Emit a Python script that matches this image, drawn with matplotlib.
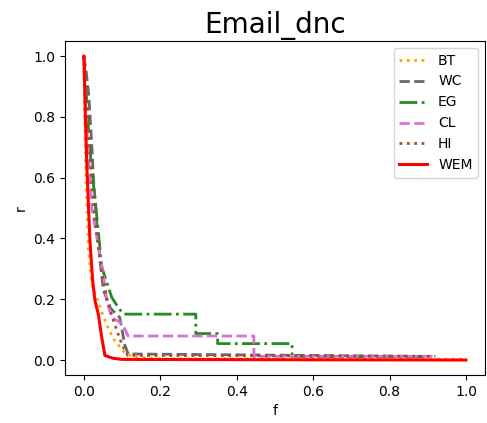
import matplotlib
matplotlib.use("Agg")
from matplotlib import pyplot as plt

# f / r values
bt_f = [0.0, 0.005, 0.012, 0.021, 0.035, 0.047, 0.065, 0.081, 0.107, 0.129, 0.2, 1.0]
bt_r = [1.0, 0.6, 0.36, 0.25, 0.2, 0.157, 0.1, 0.063, 0.024, 0.01, 0.004, 0.003]

wc_f = [0.0, 0.006, 0.013, 0.021, 0.025, 0.034, 0.042, 0.051, 0.07, 0.094, 0.107, 0.116, 0.6, 0.9]
wc_r = [1.0, 0.95, 0.87, 0.7, 0.6, 0.45, 0.33, 0.23, 0.17, 0.14, 0.05, 0.02, 0.015, 0.012]

eg_f = [0.0, 0.006, 0.015, 0.025, 0.038, 0.047, 0.073, 0.09, 0.103, 0.293, 0.293, 0.35, 0.35, 0.545, 0.545, 0.9]
eg_r = [1.0, 0.88, 0.7, 0.58, 0.42, 0.305, 0.206, 0.173, 0.151, 0.151, 0.087, 0.087, 0.054, 0.054, 0.012, 0.01]

cl_f = [0.0, 0.008, 0.021, 0.029, 0.051, 0.06, 0.073, 0.1, 0.116, 0.445, 0.445, 0.921]
cl_r = [1.0, 0.75, 0.5, 0.44, 0.28, 0.195, 0.14, 0.12, 0.079, 0.079, 0.012, 0.012]

hi_f = [0.0, 0.01, 0.02, 0.03, 0.045, 0.06, 0.08, 0.1, 0.115, 0.92]
hi_r = [1.0, 0.8, 0.6, 0.45, 0.3, 0.2, 0.12, 0.05, 0.015, 0.012]

wem_f = [0.0, 0.004, 0.008, 0.016, 0.023, 0.029, 0.038, 0.046, 0.055, 0.075, 0.1, 0.5, 1.0]
wem_r = [1.0, 0.8, 0.63, 0.39, 0.26, 0.195, 0.15, 0.08, 0.015, 0.006, 0.002, 0.001, 0.0]

fig = plt.figure(figsize=(4.87, 4.23), dpi=100)
ax = fig.add_axes([0.133, 0.113, 0.863, 0.79])

ax.plot(bt_f, bt_r, color='orange', linestyle=':', linewidth=2, label='BT')
ax.plot(wc_f, wc_r, color='dimgray', linestyle='--', linewidth=2, label='WC')
ax.plot(eg_f, eg_r, color='forestgreen', linestyle='-.', linewidth=2, label='EG')
ax.plot(cl_f, cl_r, color='orchid', linestyle='--', linewidth=2, label='CL')
ax.plot(hi_f, hi_r, color='sienna', linestyle=':', linewidth=2, label='HI')
ax.plot(wem_f, wem_r, color='red', linestyle='-', linewidth=2.2, label='WEM')

ax.set_xticks([0.0, 0.2, 0.4, 0.6, 0.8, 1.0])
ax.set_yticks([0.0, 0.2, 0.4, 0.6, 0.8, 1.0])
ax.set_xlabel('f')
ax.set_ylabel('r')
ax.set_title('Email_dnc', fontsize=20)
ax.legend(loc='upper right')

fig.savefig('out.png', dpi=100)
